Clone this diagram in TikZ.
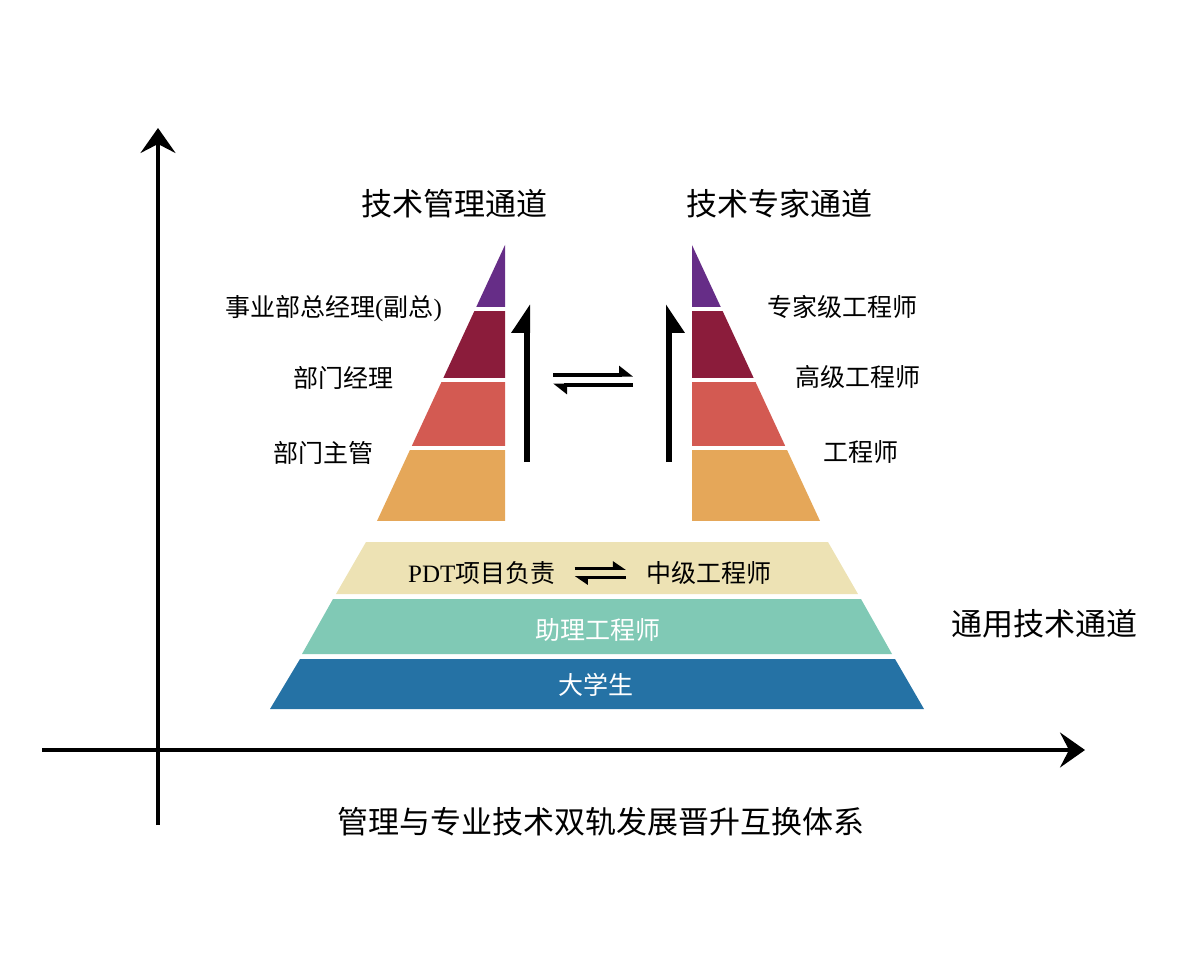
\documentclass[tikz,border=0pt]{standalone}
\usepackage{fontspec}
\setmainfont{Liberation Serif}
\newfontfamily\cjk{Noto Sans CJK SC}
\usetikzlibrary{positioning, arrows.meta}

\definecolor{lvlPurple}{RGB}{102,45,135}
\definecolor{lvlCrimson}{RGB}{139,28,59}
\definecolor{lvlRed}{RGB}{211,90,82}
\definecolor{lvlOrange}{RGB}{229,167,89}
\definecolor{baseBeige}{RGB}{237,226,180}
\definecolor{baseTeal}{RGB}{128,201,181}
\definecolor{baseBlue}{RGB}{37,114,165}

\begin{document}
\begin{tikzpicture}[
    x=1pt, y=-1pt,
    % axes and arrows
    axis/.style={line width=3.5pt, -{Stealth[length=25pt, width=35pt, inset=9pt]}},
    climb/.style={line width=6pt, -{Triangle[harpoon, length=24pt, width=30pt]}},
    climbr/.style={line width=6pt, -{Triangle[harpoon, swap, length=24pt, width=30pt]}},
    swapbig/.style={line width=4pt, -{Triangle[harpoon, length=12pt, width=18pt]}},
    swapsmall/.style={line width=3pt, -{Triangle[harpoon, length=11pt, width=14pt]}},
    % text
    heading/.style={font=\cjk\fontsize{31}{36}\selectfont, inner sep=0pt, text height=26pt, text depth=2.5pt},
    rung/.style={font=\cjk\fontsize{25}{30}\selectfont, inner sep=0pt, text height=21pt, text depth=2pt},
    bandtext/.style={rung, text=white}
]
  \useasboundingbox (0,0) rectangle (1202,976);

  % --- AXES ---
  \coordinate (yfoot) at (158,825);
  \coordinate (ytop) at (158,128);
  \coordinate (xfoot) at (42,750);
  \coordinate (xtip) at (1085,750);
  \draw[axis] (yfoot) -- (ytop);
  \draw[axis] (xfoot) -- (xtip);

  % --- LEFT PYRAMID: MANAGEMENT ---
  \begin{scope}
    \clip (505,245) -- (377,521) -- (505,521) -- cycle;
    \fill[lvlPurple]  (370,240) rectangle (510,307);
    \fill[lvlCrimson] (370,311) rectangle (510,378);
    \fill[lvlRed]     (370,382) rectangle (510,446);
    \fill[lvlOrange]  (370,450) rectangle (510,521);
  \end{scope}

  % --- RIGHT PYRAMID: EXPERT ---
  \begin{scope}
    \clip (692,245) -- (820,521) -- (692,521) -- cycle;
    \fill[lvlPurple]  (687,240) rectangle (830,307);
    \fill[lvlCrimson] (687,311) rectangle (830,378);
    \fill[lvlRed]     (687,382) rectangle (830,446);
    \fill[lvlOrange]  (687,450) rectangle (830,521);
  \end{scope}

  % --- COMMON BASE ---
  \fill[baseBeige] (366,542) -- (828,542) -- (858,594) -- (336,594) -- cycle;
  \fill[baseTeal]  (333,599) -- (861,599) -- (892,654) -- (302,654) -- cycle;
  \fill[baseBlue]  (300,659) -- (895,659) -- (924,709) -- (270,709) -- cycle;

  % --- HEADINGS ---
  \node[heading] (mgmt) at (454,204) {技术管理通道};
  \node[heading] (expert) at (779,204) {技术专家通道};
  \node[heading] (common) at (1044,624) {通用技术通道};
  \node[heading] (caption) at (601,822) {管理与专业技术双轨发展晋升互换体系};

  % --- LEVEL LABELS ---
  \node[rung, anchor=west] (gm) at (225,307) {事业部总经理{\rmfamily(}副总{\rmfamily)}};
  \node[rung, anchor=west] (dm) at (293,378) {部门经理};
  \node[rung, anchor=west] (sv) at (273,453) {部门主管};

  \node[rung, anchor=west] (chief) at (767,307) {专家级工程师};
  \node[rung, anchor=west] (senior) at (795,377) {高级工程师};
  \node[rung, anchor=west] (eng) at (823,452) {工程师};

  \node[rung, anchor=west] (pdt) at (408,573) {{\rmfamily PDT}项目负责};
  \node[rung, anchor=west] (mid) at (646,573) {中级工程师};
  \node[bandtext] (asst) at (598,630) {助理工程师};
  \node[bandtext] (grad) at (596,685) {大学生};

  % --- PROMOTION ARROWS ---
  \coordinate (lfoot) at (527,462);
  \coordinate (ltop) at (527,304);
  \coordinate (rfoot) at (669,462);
  \coordinate (rtop) at (669,304);
  \draw[climb] (lfoot) -- (ltop);
  \draw[climbr] (rfoot) -- (rtop);

  % exchange between the two tracks
  \coordinate (swapL) at (553,380);
  \coordinate (swapR) at (633,380);
  \draw[swapbig] ([yshift=5pt]swapL) -- ([yshift=5pt]swapR);
  \draw[swapbig] ([yshift=-5pt]swapR) -- ([yshift=-5pt]swapL);

  % exchange in the base
  \draw[swapsmall, shorten <=19pt, shorten >=20pt] ([yshift=4.5pt]pdt.east) -- ([yshift=4.5pt]mid.west);
  \draw[swapsmall, shorten <=20pt, shorten >=19pt] ([yshift=-4.5pt]mid.west) -- ([yshift=-4.5pt]pdt.east);

\end{tikzpicture}
\end{document}
